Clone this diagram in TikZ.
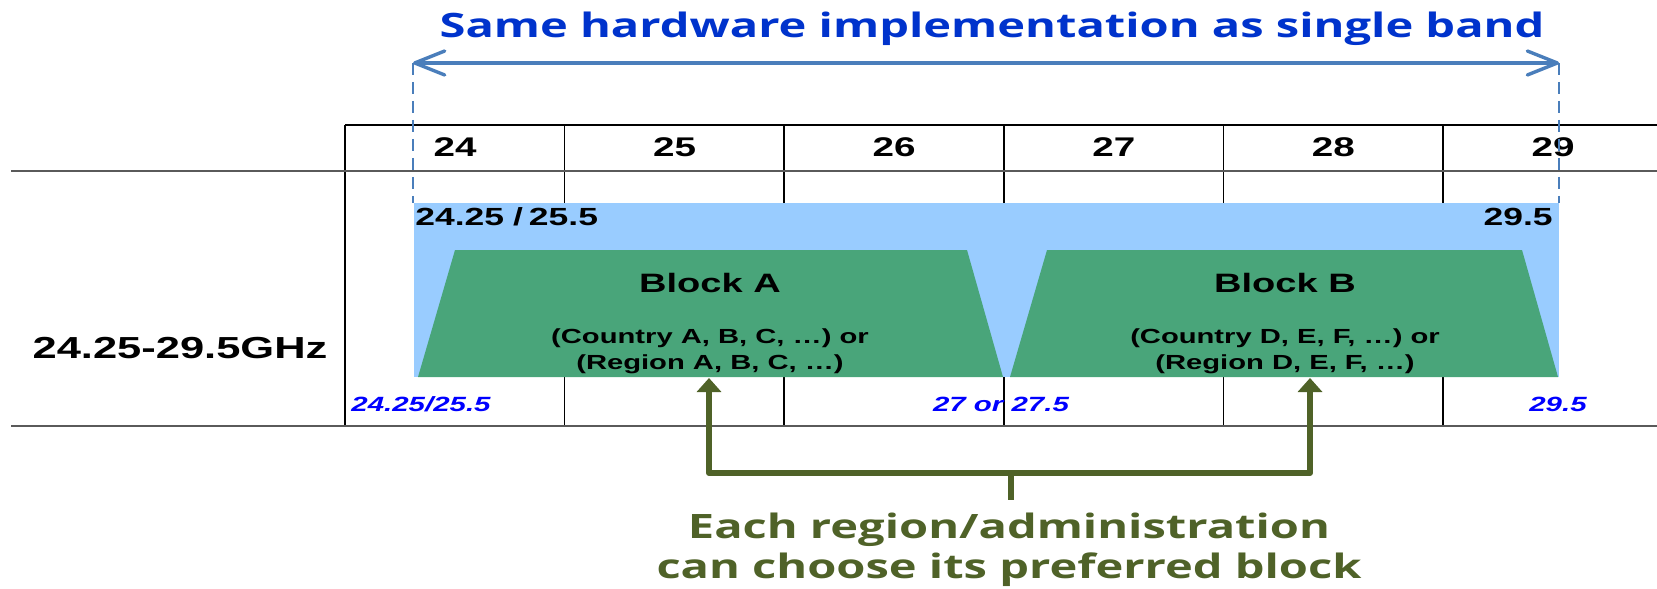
\documentclass[tikz,border=0pt]{standalone}
\usepackage{fontspec}
\usepackage{tikz}
\usetikzlibrary{arrows.meta,positioning}
\newfontfamily\armfont{Liberation Sans}[FakeStretch=1.43]
\newfontfamily\hdfont{Open Sans}[FakeStretch=1.40]
\definecolor{HeadBlue}{RGB}{0,51,204}
\definecolor{SpanBlue}{RGB}{74,126,187}
\definecolor{BandBlue}{RGB}{153,204,255}
\definecolor{BlockGreen}{RGB}{73,165,122}
\definecolor{PickOlive}{RGB}{79,98,40}
\definecolor{RuleGray}{RGB}{90,90,90}

\begin{document}
\begin{tikzpicture}[
    x=0.5pt,y=-0.5pt,
    rule/.style={draw=RuleGray, line width=1.1pt},
    cell/.style={draw=black, line width=0.8pt},
    guide/.style={draw=SpanBlue, line width=1.3pt, dash pattern=on 6pt off 3.5pt},
    hwspan/.style={{Straight Barb[length=15pt,width=12pt,round]}-{Straight Barb[length=15pt,width=12pt,round]}, draw=SpanBlue, line width=1.7pt},
    pickline/.style={draw=PickOlive, line width=3pt, line join=round},
    pickarrow/.style={pickline, -{Triangle[length=7pt,width=12pt]}},
    txt/.style={inner sep=0pt, anchor=base},
    titlelab/.style={txt, text=HeadBlue, font=\hdfont\bfseries\fontsize{16.8}{20}\selectfont},
    notelab/.style={txt, text=PickOlive, align=center, font=\hdfont\bfseries\fontsize{16.8}{20}\selectfont},
    ticklab/.style={txt, font=\armfont\bfseries\fontsize{13.5}{16}\selectfont},
    freqlab/.style={txt, font=\armfont\bfseries\fontsize{15.2}{18}\selectfont},
    edgelab/.style={txt, font=\armfont\bfseries\fontsize{12.4}{15}\selectfont},
    blocklab/.style={txt, font=\armfont\bfseries\fontsize{13.3}{16}\selectfont},
    sublab/.style={txt, align=center, font=\armfont\bfseries\fontsize{10.2}{13}\selectfont},
    optlab/.style={txt, text=blue, font=\armfont\bfseries\itshape\fontsize{10.3}{12}\selectfont}
  ]
    \useasboundingbox (0,0) rectangle (1657,588);
    % frequency grid
    \draw[cell] (345,125) -- (1657,125);
    \foreach \i in {0,...,5} {
      \draw[cell] ({345+219.6*\i},125) -- ({345+219.6*\i},426);
    }
    \foreach \i/\f in {0/24,1/25,2/26,3/27,4/28,5/29} {
      \node[ticklab] (f\f) at ({455+219.6*\i},157) {\f};
    }
    \draw[rule] (11,171) -- (1657,171);
    \draw[rule] (11,426) -- (1657,426);
    \node[freqlab] (band) at (180,358) {24.25-29.5GHz};
    % whole band and the two blocks
    \fill[BandBlue] (414,203) rectangle (1559,377);
    \fill[BlockGreen] (455,250) -- (967,250) -- (1003,377) -- (418,377) -- cycle;
    \fill[BlockGreen] (1047,250) -- (1522,250) -- (1558,377) -- (1010,377) -- cycle;
    \node[edgelab, anchor=base west] (loEdge) at (415,226) {24.25\hspace{4.5pt}/\hspace{3pt}25.5};
    \node[edgelab, anchor=base east] (hiEdge) at (1553,226) {29.5};
    \node[blocklab] (blkA) at (710,292) {Block A};
    \node[blocklab] (blkB) at (1285,292) {Block B};
    \node[sublab] (ctyA) at (710,369) {(Country A, B, C, …) or\\(Region A, B, C, …)};
    \node[sublab] (ctyB) at (1285,369) {(Country D, E, F, …) or\\(Region D, E, F, …)};
    \node[optlab] (optLo) at (421,411) {24.25/25.5};
    \node[optlab] (optMid) at (1001,411) {27 or 27.5};
    \node[optlab] (optHi) at (1558,411) {29.5};
    % same hardware span
    \coordinate (spanL) at (413,63);
    \coordinate (spanR) at (1559,63);
    \coordinate (bandL) at (413,203);
    \coordinate (bandR) at (1559,203);
    \draw[guide] (spanL) -- (bandL);
    \draw[guide] (spanR) -- (bandR);
    \draw[hwspan] (spanL) -- (spanR);
    \node[titlelab] (hw) at (992,38) {Same hardware implementation as single band};
    % choice of block
    \coordinate (hub) at (1011,473);
    \coordinate (pickA) at (709,378);
    \coordinate (pickB) at (1310,378);
    \coordinate (stem) at (1011,500);
    \draw[pickarrow] (hub) -| (pickA);
    \draw[pickarrow] (hub) -| (pickB);
    \draw[pickline] (hub) -- (stem);
    \node[notelab] (choice) at (1009,578) {Each region/administration\\can choose its preferred block};
\end{tikzpicture}
\end{document}
